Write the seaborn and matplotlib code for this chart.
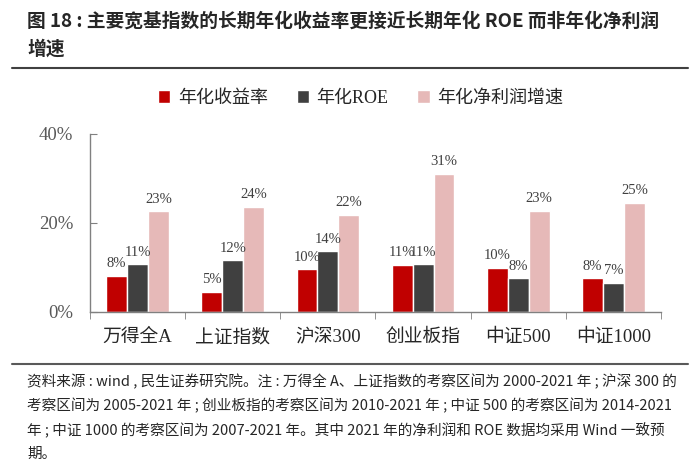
import pandas as pd
import matplotlib.pyplot as plt
import seaborn as sns
from matplotlib.lines import Line2D
from matplotlib.ticker import PercentFormatter

# --- data (percent) ---
indices = ['万得全A', '上证指数', '沪深300', '创业板指', '中证500', '中证1000']
series_names = ['年化收益率', '年化ROE', '年化净利润增速']
annual_return = [8.1, 4.6, 9.6, 10.6, 10.0, 7.6]
annual_roe = [10.7, 11.6, 13.6, 10.7, 7.6, 6.6]
profit_growth = [22.6, 23.6, 21.9, 31.1, 22.7, 24.6]
colors = ['#C00000', '#404040', '#E6B9B8']

title_lines = ['图 18 : 主要宽基指数的长期年化收益率更接近长期年化 ROE 而非年化净利润', '增速']
note_lines = [
    '资料来源 : wind , 民生证券研究院。注 : 万得全 A、上证指数的考察区间为 2000-2021 年 ; 沪深 300 的',
    '考察区间为 2005-2021 年 ; 创业板指的考察区间为 2010-2021 年 ; 中证 500 的考察区间为 2014-2021',
    '年 ; 中证 1000 的考察区间为 2007-2021 年。其中 2021 年的净利润和 ROE 数据均采用 Wind 一致预',
    '期。',
]

df = pd.DataFrame({
    '指数': indices * 3,
    '系列': [s for s in series_names for _ in indices],
    '值': [v / 100 for v in annual_return + annual_roe + profit_growth],
})

sns.set_style('ticks')
plt.rcParams['font.family'] = ['Liberation Serif', 'Noto Sans CJK SC']
sans = ['Noto Sans CJK SC', 'DejaVu Sans']

fig = plt.figure(figsize=(7, 4.71), dpi=100)
ax = fig.add_axes([90 / 700, 1 - 312 / 471, (661 - 90) / 700, (312 - 134) / 471])

sns.barplot(data=df, x='指数', y='值', hue='系列', palette=colors, width=0.66,
            saturation=1, ax=ax)

for cont in ax.containers:
    ax.bar_label(cont, fmt=lambda v: f'{v * 100:.0f}%', padding=4,
                 fontsize=10.5, color='#404040')

# axes styling
ax.set_xlim(-0.5, len(indices) - 0.5)
ax.set_ylim(0, 0.4)
ax.set_yticks([0, 0.2, 0.4])
ax.yaxis.set_major_formatter(PercentFormatter(1.0, decimals=0))
ax.set_xlabel('')
ax.set_ylabel('')
sns.despine(ax=ax)
for side in ['left', 'bottom']:
    ax.spines[side].set_color('#808080')
    ax.spines[side].set_linewidth(1)
ax.tick_params(axis='y', direction='in', length=5, color='#808080',
               labelsize=13.5, labelcolor='#595959', pad=12)
ax.tick_params(axis='x', which='major', length=0, labelsize=13.5,
               labelcolor='#262626', pad=12)
ax.set_xticks([i - 0.5 for i in range(len(indices) + 1)], minor=True)
ax.tick_params(axis='x', which='minor', direction='out', length=5, color='#808080')

# legend across the top
handles, labels = ax.get_legend_handles_labels()
ax.legend(handles, labels, ncol=3, loc='center', bbox_to_anchor=(0.515, 1 - 98 / 471),
          bbox_transform=fig.transFigure, frameon=False, fontsize=13,
          handlelength=0.7, handleheight=0.7, handletextpad=0.4, columnspacing=1.6,
          labelcolor='#262626')

# title and rules
for i, line in enumerate(title_lines):
    fig.text(27 / 700, 1 - (21 + 28 * i) / 471, line, fontsize=13.5, fontweight='bold',
             family=sans, color='#262626', va='center', ha='left')
fig.add_artist(Line2D([12 / 700, 688 / 700], [1 - 68 / 471] * 2, color='#404040', lw=1.5))
fig.add_artist(Line2D([12 / 700, 688 / 700], [1 - 364 / 471] * 2, color='#595959', lw=1.5))

# footnote
for i, line in enumerate(note_lines):
    fig.text(27 / 700, 1 - (382 + 24 * i) / 471, line, fontsize=10.5, family=sans,
             color='#262626', va='center', ha='left')

fig.savefig('out.png', dpi=100)
